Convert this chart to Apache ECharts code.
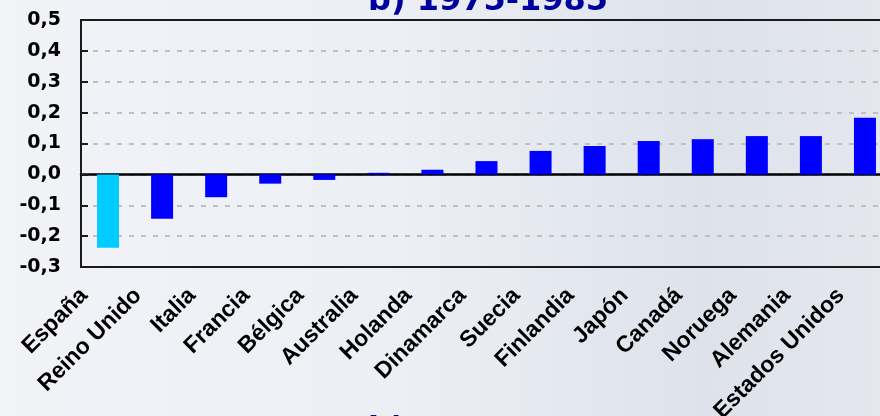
<!DOCTYPE html>
<html>
<head>
<meta charset="utf-8">
<script src="https://cdn.jsdelivr.net/npm/echarts@6/dist/echarts.min.js"></script>
<style>
  html, body { margin: 0; padding: 0; }
  #chart { width: 880px; height: 416px; }
</style>
</head>
<body>
<div id="chart"></div>
<script>
// data
const countries = ['España', 'Reino Unido', 'Italia', 'Francia', 'Bélgica', 'Australia', 'Holanda',
  'Dinamarca', 'Suecia', 'Finlandia', 'Japón', 'Canadá', 'Noruega', 'Alemania', 'Estados Unidos'];
const values = [-0.238, -0.144, -0.074, -0.030, -0.018, 0.005, 0.015,
  0.043, 0.076, 0.092, 0.108, 0.114, 0.124, 0.124, 0.183];
const highlight = 'España';
const titleTop = 'b) 1975-1985';
const titleBottom = 'b) 1985-2000';

const chart = echarts.init(document.getElementById('chart'));

const option = {
  animation: false,
  backgroundColor: {
    type: 'linear', x: 0, y: 0, x2: 1, y2: 0,
    colorStops: [
      { offset: 0, color: '#F1F3F7' },
      { offset: 0.45, color: '#ECEFF5' },
      { offset: 0.8, color: '#DEE2EB' },
      { offset: 1, color: '#E4E7EE' }
    ]
  },
  title: [
    {
      text: titleTop,
      left: 368,
      top: -14,
      padding: 0,
      textStyle: { fontFamily: 'DejaVu Sans', fontWeight: 'bold', fontSize: 32, color: '#0000A0' }
    },
    {
      text: titleBottom,
      left: 368,
      top: 415,
      padding: 0,
      textStyle: { fontFamily: 'DejaVu Sans', fontWeight: 'bold', fontSize: 32, color: '#0000A0' }
    }
  ],
  grid: {
    left: 81,
    top: 20,
    width: 811,
    height: 247,
    outerBoundsMode: 'none',
    containLabel: false,
    show: true,
    borderColor: '#1a1a1a',
    borderWidth: 2,
    backgroundColor: 'transparent'
  },
  xAxis: [
    {
      // axis line through zero with ticks
      type: 'category',
      data: countries,
      axisLine: { onZero: true, lineStyle: { color: '#000', width: 2.5 } },
      axisTick: { inside: true, length: 6, lineStyle: { color: '#000', width: 2 } },
      axisLabel: { show: false }
    },
    {
      // labels along the bottom
      type: 'category',
      data: countries,
      position: 'bottom',
      axisLine: { show: false, onZero: false },
      axisTick: { show: false },
      axisLabel: {
        interval: 0,
        rotate: 45,
        margin: 1,
        padding: [0, 34, 0, 0],
        fontFamily: 'Liberation Sans',
        fontWeight: 'bold',
        fontSize: 23,
        color: '#000'
      }
    }
  ],
  yAxis: {
    type: 'value',
    min: -0.3,
    max: 0.5,
    interval: 0.1,
    axisLine: { show: true, lineStyle: { color: '#1a1a1a', width: 2 } },
    axisTick: { show: true, inside: true, length: 7, lineStyle: { color: '#1a1a1a', width: 2 } },
    axisLabel: {
      margin: 20,
      fontFamily: 'DejaVu Sans',
      fontWeight: 'bold',
      fontSize: 19,
      color: '#000',
      formatter: v => v.toFixed(1).replace('.', ',')
    },
    splitLine: {
      showMinLine: false,
      showMaxLine: false,
      lineStyle: { color: '#C0C0C0', width: 2, type: [5, 7] }
    }
  },
  series: [
    {
      type: 'bar',
      xAxisIndex: 0,
      barWidth: 22,
      data: values.map((v, i) => ({
        value: v,
        itemStyle: { color: countries[i] === highlight ? '#00CCFF' : '#0000FF' }
      }))
    }
  ]
};

chart.setOption(option);
</script>
</body>
</html>
